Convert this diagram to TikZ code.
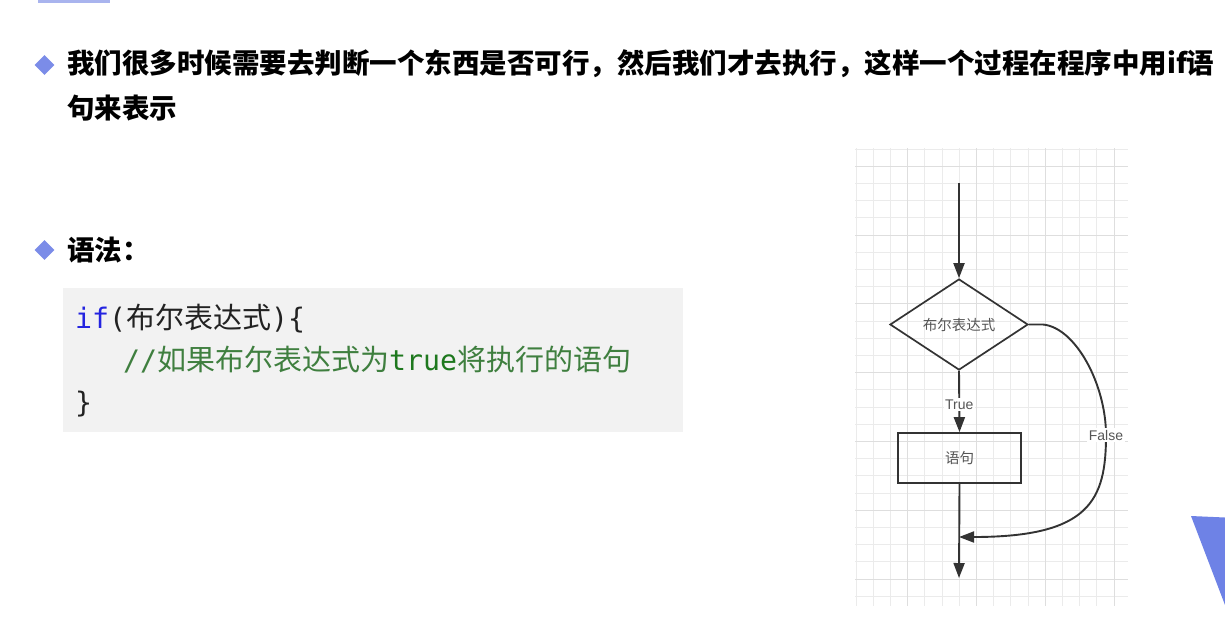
\documentclass[tikz,border=0pt]{standalone}
\usepackage{fontspec}
\setmainfont{Liberation Sans}
\newfontfamily\cjk{Noto Sans CJK SC}
\newfontfamily\codemono{DejaVu Sans Mono}
\usetikzlibrary{arrows.meta,shapes.geometric}
\definecolor{bulletblue}{HTML}{7B8CE8}
\definecolor{triblue}{HTML}{6E82E6}
\definecolor{barblue}{HTML}{A9B4EE}
\definecolor{codebg}{HTML}{F2F2F2}
\definecolor{kwblue}{HTML}{2424E0}
\definecolor{cmtgreen}{HTML}{3F7F3F}
\definecolor{truegreen}{HTML}{1E781E}
\definecolor{codeblack}{HTML}{222222}
\definecolor{flowline}{HTML}{333333}
\definecolor{flowtext}{HTML}{555555}
\definecolor{gridminor}{HTML}{EBEBEB}
\definecolor{gridmajor}{HTML}{DEDEDE}
\newcommand\cm{\codemono\fontsize{28.2}{30}\selectfont}
\newcommand\cz{\cjk\fontsize{29}{30}\selectfont}
\newcommand\tfont{\cjk\bfseries\fontsize{27.5}{30}\selectfont}
\begin{document}
\begin{tikzpicture}[x=1pt,y=-1pt,
  bulletmark/.style={diamond,fill=bulletblue,minimum width=20,minimum height=20,inner sep=0},
  titletext/.style={anchor=base west,inner sep=0,font=\tfont,text=black},
  codeline/.style={anchor=base west,inner sep=0,text=codeblack},
  codebox/.style={fill=codebg,minimum width=620,minimum height=144,inner sep=0},
  decision/.style={diamond,draw=flowline,line width=1.7,minimum width=138,minimum height=91,inner sep=0,font=\cjk\fontsize{14.5}{16}\selectfont,text=flowtext},
  process/.style={rectangle,draw=flowline,line width=1.7,minimum width=123,minimum height=50,inner sep=0,font=\cjk\fontsize{14.5}{16}\selectfont,text=flowtext},
  flowarrow/.style={draw=flowline,line width=1.9,-{Triangle[length=15,width=11]}},
  flowlabel/.style={fill=white,inner sep=1.5,font=\fontsize{14}{16}\selectfont,text=flowtext}]
\useasboundingbox (0,0) rectangle (1225,641);
\fill[white] (0,0) rectangle (1225,641);
% top-left bar
\fill[barblue] (38,0) rectangle (110,2.5);
% heading
\node[bulletmark] (b1) at (44.5,65) {};
\node[titletext] (t1) at (67,73) {我们很多时候需要去判断一个东西是否可行，然后我们才去执行，这样一个过程在程序中用if语};
\node[titletext] (t2) at (67,118) {句来表示};
\node[bulletmark] (b2) at (44.5,250) {};
\node[titletext] (t3) at (67,260) {语法：};
% code block
\node[codebox] (code) at (373,360) {};
\node[codeline] (c1) at (75,328) {{\cm\color{kwblue}if}{\cm(}{\cz 布尔表达式}{\cm)\{}};
\node[codeline,text=cmtgreen] (c2) at (123,370) {{\cm //}{\cz 如果布尔表达式为}{\cm\color{truegreen}true}{\cz 将执行的语句}};
\node[codeline] (c3) at (75,412) {{\cm\}}};
% grid
\begin{scope}
\clip (855,148) rectangle (1128,606);
\foreach \i in {0,...,16} \draw[gridminor,line width=1] (856+\i*17.2,148) -- (856+\i*17.2,606);
\foreach \i in {0,...,27} \draw[gridminor,line width=1] (855,149+\i*17.2) -- (1128,149+\i*17.2);
\foreach \i in {3,7,11,15} \draw[gridmajor,line width=1] (856+\i*17.2,148) -- (856+\i*17.2,606);
\foreach \i in {1,5,...,25} \draw[gridmajor,line width=1] (855,149+\i*17.2) -- (1128,149+\i*17.2);
\end{scope}
% flowchart
\node[decision] (cond) at (959,324.5) {布尔表达式};
\node[process] (stmt) at (959.5,458) {语句};
\coordinate (src) at (959,183);
\coordinate (merge) at (959,537);
\coordinate (sink) at (959,578);
\draw[flowarrow] (src) -- (cond.north);
\draw[flowarrow] (cond.south) -- node[flowlabel,pos=0.55]{True} (stmt.north);
\draw[flowarrow] (cond.east) -- ++(14,0) .. controls +(33,3) and (1106,385) .. (1106,435) node[flowlabel]{False} .. controls (1106,500) and (1090,537) .. (merge);
\draw[flowarrow] (stmt.south) -- (sink);
% decorative triangle
\fill[triblue] (1191,516) -- (1225,517.5) -- (1225,605) -- cycle;
\end{tikzpicture}
\end{document}
